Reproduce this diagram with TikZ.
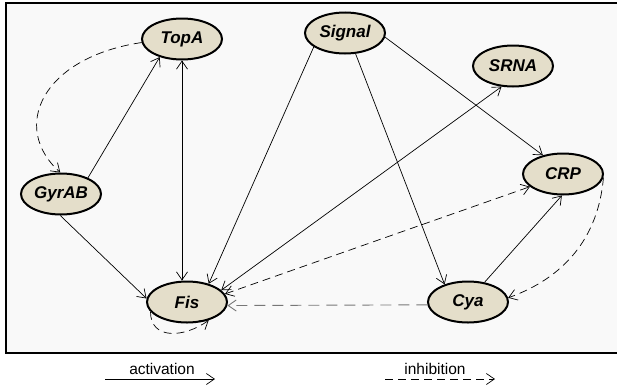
\documentclass[tikz,border=0pt]{standalone}
\usepackage{fontspec}
\setmainfont{Liberation Sans}
\usetikzlibrary{shapes.geometric,arrows.meta}
\definecolor{nodefill}{HTML}{E4DECA}
\definecolor{panel}{HTML}{F9F9F9}
\definecolor{greydash}{HTML}{777777}
\begin{document}
\begin{tikzpicture}[x=1pt,y=-1pt,
  gene/.style={ellipse, draw=black, line width=2pt, fill=nodefill,
    minimum width=80pt, minimum height=41pt, inner sep=0pt,
    font=\fontsize{17}{19}\selectfont\bfseries\itshape},
  barb/.tip={Straight Barb[length=8pt,width=11pt]},
  act/.style={line width=0.7pt, -barb},
  twoway/.style={barb-barb},
  inh/.style={line width=0.7pt, -barb, dash pattern=on 8pt off 5pt},
  legend/.style={font=\fontsize{15.5}{17}\selectfont},
  ]
\useasboundingbox (0,0) rectangle (617,388);
\fill[white] (0,0) rectangle (617,388);
% panel behind the network, open on the right
\begin{scope}
  \clip (0,0) rectangle (617,388);
  \draw[line width=2.5pt, fill=panel] (640,3) -- (6,3) -- (6,353) -- (640,353);
\end{scope}

% genes
\node[gene] (TopA)   at (182,39)  {TopA};
\node[gene] (Signal) at (345,33)  {Signal};
\node[gene] (SRNA)   at (513,66)  {SRNA};
\node[gene] (CRP)    at (563,174) {CRP};
\node[gene] (GyrAB)  at (61,194)  {GyrAB};
\node[gene] (Fis)    at (187,302) {Fis};
\node[gene] (Cya)    at (468,302) {Cya};

% activations
\draw[act] (GyrAB.31) -- (TopA.219);
\draw[act, twoway] (TopA.south) -- (TopA.south |- Fis.north);
\draw[act] (GyrAB.268) -- (Fis.175);
\draw[act] (Signal.204) -- (Fis.40);
\draw[act] (Signal.297) -- (Cya.143);
\draw[act] (Signal.-6) -- (CRP.137);
\draw[act, twoway] (Fis.19) -- (SRNA.241);
\draw[act] (Cya.50) -- (CRP.267);

% inhibitions
\draw[inh] (TopA.185) .. controls +(-100,15) and +(-50,-45) .. (GyrAB.92);
\draw[inh, twoway] (Fis.12) -- (CRP.201);
\draw[inh, draw=greydash, line width=0.9pt, dash pattern=on 11pt off 7pt] (Cya.184) -- (Fis.-5);
\draw[inh] (Fis.195) .. controls +(0,28) and +(-25,18) .. (Fis.-40);
\draw[inh] (CRP.-5) .. controls +(-5,60) and +(56,-20) .. (Cya.6);

% legend
\coordinate (a1) at (105,379);
\coordinate (a2) at (215,379);
\coordinate (i1) at (385,379);
\coordinate (i2) at (495,379);
\draw[act] (a1) -- (a2);
\draw[inh] (i1) -- (i2);
\node[legend] (actlabel) at (162,369) {activation};
\node[legend] (inhlabel) at (435,369) {inhibition};
\end{tikzpicture}
\end{document}
